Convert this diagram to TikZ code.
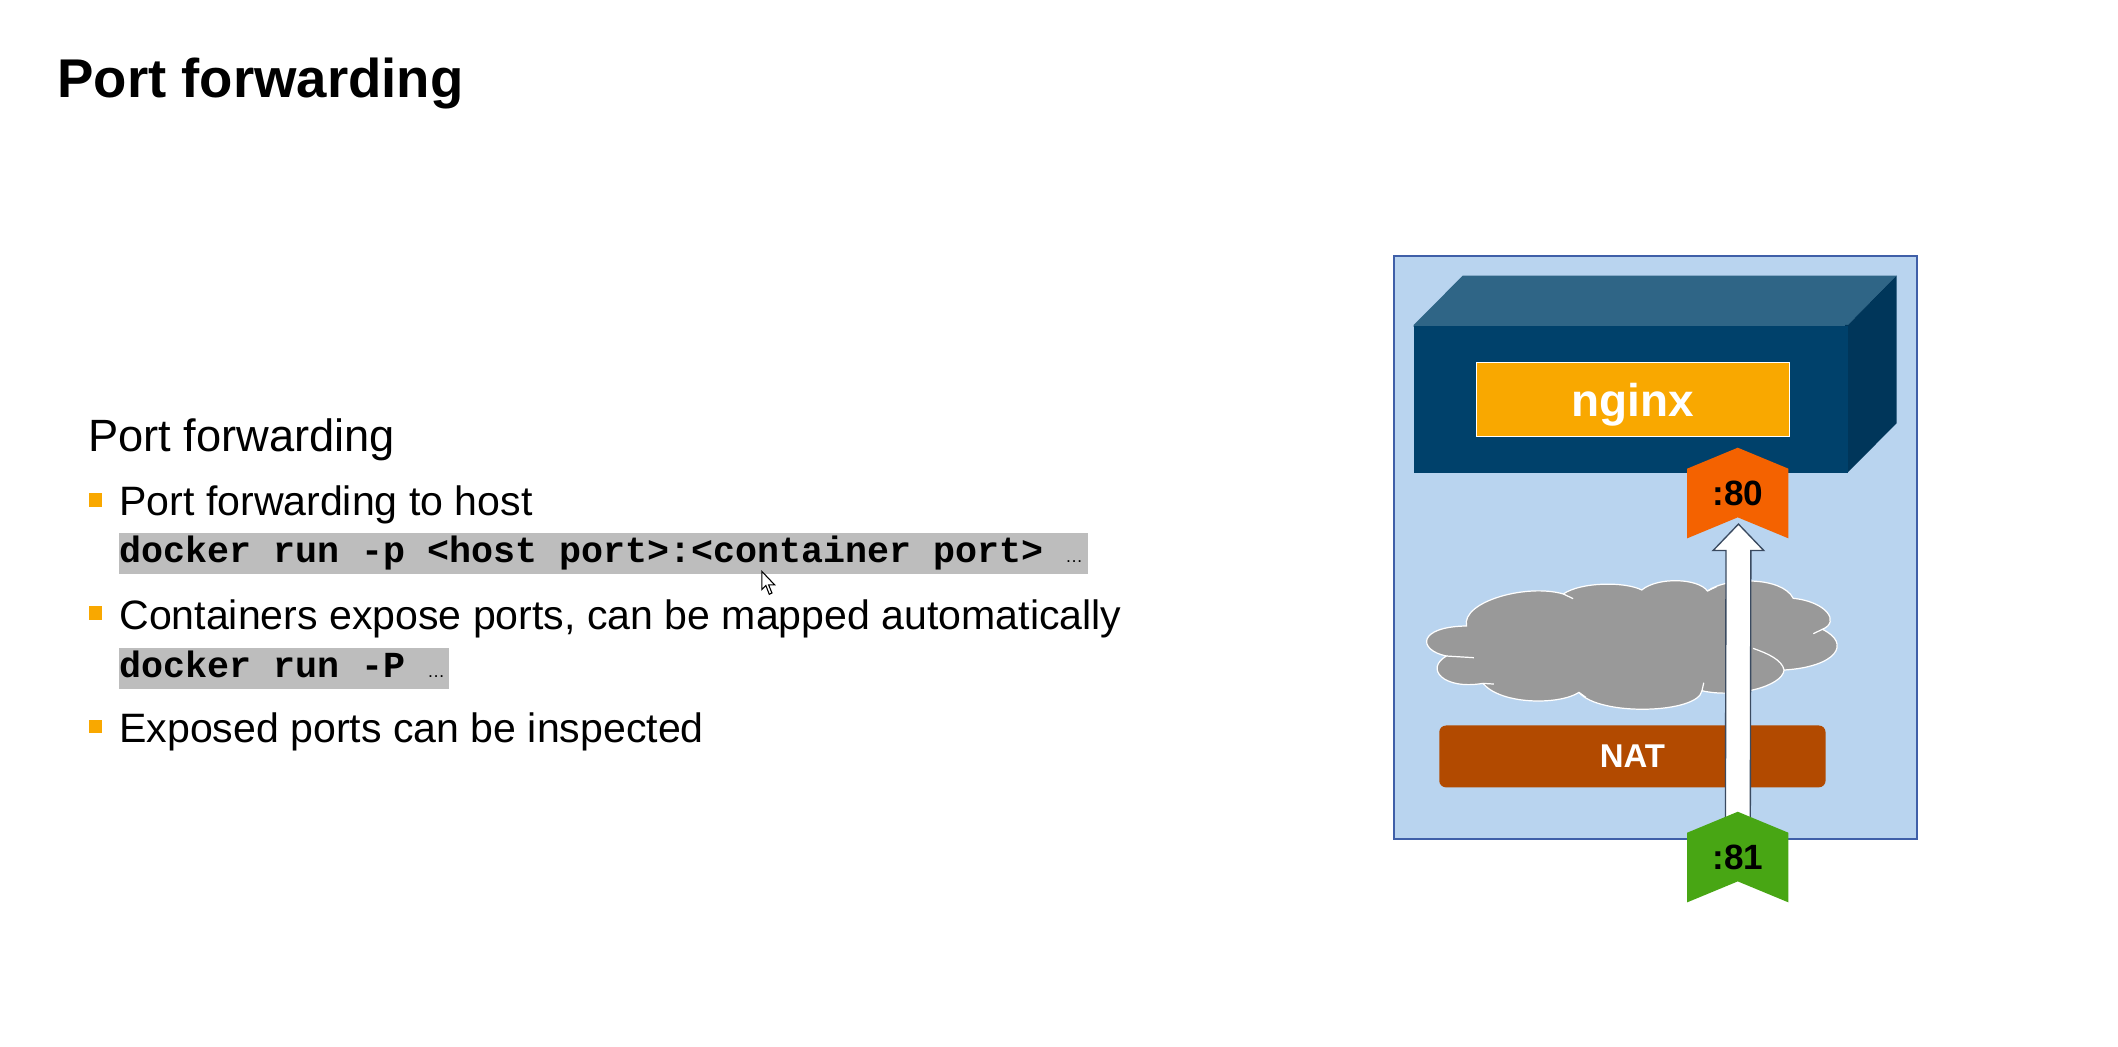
\documentclass[tikz,border=0pt]{standalone}
\usepackage{fontspec}
\setmainfont{Liberation Sans}
\setmonofont{Liberation Mono}
\usetikzlibrary{shapes.symbols}
\definecolor{framefill}{HTML}{B9D4EF}
\definecolor{frameline}{HTML}{3F5FA8}
\definecolor{boxfront}{HTML}{00416B}
\definecolor{boxtop}{HTML}{2F6586}
\definecolor{boxside}{HTML}{00365A}
\definecolor{sapgold}{HTML}{F9A800}
\definecolor{natfill}{HTML}{B24A00}
\definecolor{portred}{HTML}{F46200}
\definecolor{portgreen}{HTML}{48A614}
\definecolor{codegrey}{HTML}{BDBDBD}
\definecolor{cloudgrey}{HTML}{999999}
\definecolor{arrowline}{HTML}{3A4A60}
\tikzset{
    heading/.style={anchor=base west, inner sep=0pt, font=\fontsize{20.2}{24}\selectfont\bfseries},
    subheading/.style={anchor=base west, inner sep=0pt, font=\fontsize{16.75}{20}\selectfont},
    bulletitem/.style={anchor=base west, inner sep=0pt, font=\fontsize{15.2}{19}\selectfont},
    bulletmark/.style={fill=sapgold, inner sep=0pt, minimum width=4.8pt, minimum height=5pt},
    codeline/.style={anchor=north west, fill=codegrey, inner sep=0pt, minimum height=15pt, align=left,
        font=\fontsize{13.57}{15}\selectfont\ttfamily\bfseries},
    porttag/.style={signal, signal to=north, signal from=south, signal pointer angle=135, inner sep=0pt,
        minimum width=37.5pt, minimum height=25.8pt, font=\fontsize{13}{15}\selectfont\bfseries},
    flowarrow/.style={fill=white, draw=arrowline, line width=0.5pt, line join=miter},
    cloudline/.style={draw=white, line width=0.45pt}
}
\newcommand{\codestart}{\spaceskip=8.14pt\relax\rule[-3.5pt]{0pt}{10.5pt}}
\newcommand{\codedots}{{\fontsize{6.5}{7}\selectfont\mdseries\rmfamily\char"2026}}
\begin{document}
\begin{tikzpicture}[x=0.5pt,y=-0.5pt]
    \useasboundingbox (0,0) rectangle (1568,774.4);

    % Title and text
    \node[heading] (title) at (42,72) {Port forwarding};
    \node[subheading] (sub) at (65,334) {Port forwarding};

    \node[bulletmark] (markA) at (71,370) {};
    \node[bulletitem] (itemA) at (88,382) {Port forwarding to host};
    \node[codeline, text width=358.5pt] (codeA) at (88,394.5) {\codestart docker run -p <host port>:<container port> \codedots};

    \node[bulletmark] (markB) at (71,454) {};
    \node[bulletitem] (itemB) at (88,466) {Containers expose ports, can be mapped automatically};
    \node[codeline, text width=122pt] (codeB) at (88,479.5) {\codestart docker run -P \codedots};

    \node[bulletmark] (markC) at (71,538) {};
    \node[bulletitem] (itemC) at (88,550) {Exposed ports can be inspected};

    % Mouse pointer
    \draw[fill=white, line width=0.4pt] (564,423) -- (564,436.5) -- (567,433.5) -- (569.5,440) -- (571.5,439) -- (569,433) -- (573.5,433) -- cycle;

    % Frame
    \node[draw=frameline, fill=framefill, line width=0.7pt, inner sep=0pt, anchor=north west,
        minimum width=193.5pt, minimum height=216pt] (frame) at (1031.5,188.5) {};

    % Container
    \fill[boxtop] (1046.5,242) -- (1046.5,240.6) -- (1083,204) -- (1404,204) -- (1368,240.6) -- (1368,242) -- cycle;
    \fill[boxside] (1366,240.6) -- (1368,240.6) -- (1404,204) -- (1404,313.4) -- (1368,349.7) -- (1366,349.7) -- cycle;
    \node[fill=boxfront, inner sep=0pt, anchor=north west, minimum width=160.75pt, minimum height=54.55pt] (container) at (1046.5,240.6) {};
    \node[draw=white, fill=sapgold, text=white, line width=0.4pt, inner sep=0pt, minimum width=116pt, minimum height=27.4pt,
        text depth=0pt, font=\fontsize{17}{20}\selectfont\bfseries] (nginx) at (1209,296) {nginx};

    % Cloud
    \begin{scope}[shift={(1014.1,392.3)},x=0.1351pt,y=-0.1235pt]
        \draw[fill=cloudgrey, cloudline] (210,378) .. controls (130,360) and (130,290) .. (265,288)
            .. controls (250,215) and (430,160) .. (530,192)
            .. controls (580,155) and (700,155) .. (745,180)
            .. controls (790,140) and (900,145) .. (925,183)
            .. controls (980,140) and (1130,140) .. (1160,205)
            .. controls (1250,215) and (1290,275) .. (1240,298)
            .. controls (1320,340) and (1280,410) .. (1135,420)
            .. controls (1130,470) and (1000,505) .. (910,482)
            .. controls (900,550) and (630,560) .. (573,487)
            .. controls (520,525) and (360,525) .. (310,460)
            .. controls (200,480) and (150,415) .. (210,378) -- cycle;
        \draw[cloudline] (530,192) -- (557,206);
        \draw[cloudline] (210,378) -- (285,383);
        \draw[cloudline] (310,460) -- (340,462);
        \draw[cloudline] (573,487) -- (592,502);
        \draw[cloudline] (910,482) -- (915,458);
        \draw[cloudline] (1240,298) -- (1215,311);
        \draw[cloudline] (925,183) -- (950,170);
        \draw[cloudline] (1135,420) .. controls (1130,390) and (1090,370) .. (1050,355);
    \end{scope}

    % NAT
    \node[fill=natfill, text=white, rounded corners=2.5pt, inner sep=0pt, minimum width=143pt, minimum height=22.9pt,
        font=\fontsize{12.2}{14}\selectfont\bfseries] (nat) at (1208.5,560) {NAT};

    % Ports
    \node[porttag, fill=portred] (port80) at (1286.5,365) {:80};
    \coordinate (portin) at (1286.5,634.5);
    \coordinate (arrowtip) at (1287,388);
    \coordinate (arrowbase) at (1287,407.6);
    \draw[flowarrow] ([xshift=-4.6pt]portin) -- ([xshift=-4.6pt]arrowbase) -- ([xshift=-9.4pt]arrowbase) -- (arrowtip)
        -- ([xshift=9.4pt]arrowbase) -- ([xshift=4.6pt]arrowbase) -- ([xshift=4.6pt]portin) -- cycle;
    \node[porttag, fill=portgreen] (port81) at (portin) {:81};
\end{tikzpicture}
\end{document}
